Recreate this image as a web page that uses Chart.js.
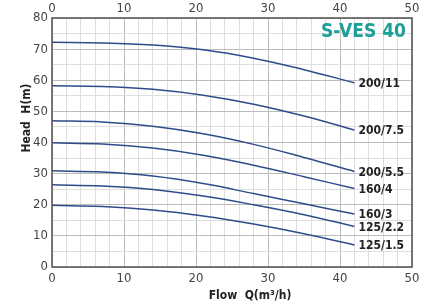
<!DOCTYPE html>
<html>
<head>
<meta charset="utf-8">
<script src="https://cdn.jsdelivr.net/npm/chart.js@4/dist/chart.umd.min.js"></script>
<style>
html,body{margin:0;padding:0;background:#fff;}
#wrap{width:439px;height:306px;position:relative;}
</style>
</head>
<body>
<div id="wrap"><canvas id="c" width="439" height="306"></canvas></div>
<script>
// ---- data ----
const flow = [0, 7, 14, 21, 28, 35, 42];
const curveNames = ["200/11", "200/7.5", "200/5.5", "160/4", "160/3", "125/2.2", "125/1.5"];
const head_200_11  = [72.2, 72.0, 71.3, 69.8, 67.1, 63.4, 59.2];
const head_200_7_5 = [58.2, 58.0, 57.1, 55.2, 52.3, 48.5, 44.0];
const head_200_5_5 = [47.0, 46.6, 45.2, 42.8, 39.4, 35.2, 30.7];
const head_160_4   = [39.9, 39.5, 38.2, 35.9, 32.7, 29.0, 25.2];
const head_160_3   = [30.9, 30.5, 29.2, 26.8, 23.6, 20.3, 17.0];
const head_125_2_2 = [26.4, 26.0, 24.9, 22.8, 20.0, 16.8, 13.0];
const head_125_1_5 = [19.8, 19.4, 18.3, 16.4, 13.8, 10.7, 7.1];
const flowTicks = [0, 10, 20, 30, 40, 50];
const headTicks = [0, 10, 20, 30, 40, 50, 60, 70, 80];
const chartTitle = "S-VES 40";
const xTitle = "Flow  Q(m\u00B3/h)";
const yTitle = "Head  H(m)";

const series = [head_200_11, head_200_7_5, head_200_5_5, head_160_4, head_160_3, head_125_2_2, head_125_1_5];

const NARROW = '"Liberation Sans Narrow", "DejaVu Sans Condensed", "Roboto Condensed", sans-serif';
const lineColor = '#2e4c8c';

const datasets = series.map((s, i) => ({
  label: curveNames[i],
  data: flow.map((q, j) => ({x: q, y: s[j]})),
  borderColor: lineColor,
  borderWidth: 1.5,
  pointRadius: 0,
  fill: false,
  tension: 0.4
}));

const gridColor = (ctx) => (ctx.tick && ctx.tick.value % 10 === 0) ? '#bcbcbc' : '#dedede';

const decor = {
  id: 'decor',
  afterDatasetsDraw(chart) {
    const {ctx, chartArea: a, scales} = chart;
    ctx.save();
    // frame
    ctx.strokeStyle = '#5a5a5a';
    ctx.lineWidth = 1.6;
    ctx.strokeRect(a.left, a.top, a.right - a.left, a.bottom - a.top);
    // curve labels
    ctx.fillStyle = '#222';
    ctx.font = 'bold 12px ' + NARROW;
    ctx.textAlign = 'left';
    ctx.textBaseline = 'middle';
    chart.data.datasets.forEach((ds) => {
      const last = ds.data[ds.data.length - 1];
      const px = scales.x.getPixelForValue(last.x);
      const py = scales.y.getPixelForValue(last.y);
      ctx.fillText(ds.label, px + 4, py + 1);
    });
    // chart title
    ctx.fillStyle = '#1c9f98';
    ctx.font = 'bold 19px ' + NARROW;
    ctx.textAlign = 'right';
    ctx.fillText(chartTitle, a.right - 6, a.top + 14);
    // axis titles
    ctx.fillStyle = '#222';
    ctx.font = 'bold 12px ' + NARROW;
    ctx.textAlign = 'center';
    ctx.fillText(xTitle, 250, 296);
    ctx.translate(27, 118);
    ctx.rotate(-Math.PI / 2);
    ctx.fillText(yTitle, 0, 0);
    ctx.restore();
  }
};

new Chart(document.getElementById('c'), {
  type: 'line',
  data: {datasets},
  plugins: [decor],
  options: {
    responsive: false,
    animation: false,
    events: [],
    layout: {padding: {left: 0, right: 27, top: 0, bottom: 0}},
    plugins: {legend: {display: false}, tooltip: {enabled: false}, title: {display: false}},
    scales: {
      x: {
        type: 'linear', position: 'bottom', min: 0, max: 50,
        afterFit(s) { s.height = 39; },
        afterBuildTicks(s) { s.ticks = []; for (let v = 0; v <= 50; v += 2) s.ticks.push({value: v}); },
        ticks: {
          autoSkip: false, maxRotation: 0, padding: 4, color: '#444',
          font: {family: NARROW, size: 13},
          callback: (v) => flowTicks.includes(v) ? String(v) : ''
        },
        grid: {color: gridColor, lineWidth: 1, drawTicks: false},
        border: {display: false}
      },
      x2: {
        type: 'linear', position: 'top', min: 0, max: 50,
        afterFit(s) { s.height = 18; },
        afterBuildTicks(s) { s.ticks = flowTicks.map(v => ({value: v})); },
        ticks: {
          autoSkip: false, maxRotation: 0, padding: 2, color: '#444',
          font: {family: NARROW, size: 13}
        },
        grid: {display: false, drawTicks: false},
        border: {display: false}
      },
      y: {
        type: 'linear', position: 'left', min: 0, max: 80,
        afterFit(s) { s.width = 52; },
        afterBuildTicks(s) { s.ticks = []; for (let v = 0; v <= 80; v += 5) s.ticks.push({value: v}); },
        ticks: {
          autoSkip: false, padding: 4, color: '#444',
          font: {family: NARROW, size: 13},
          callback: (v) => headTicks.includes(v) ? String(v) : ''
        },
        grid: {color: gridColor, lineWidth: 1, drawTicks: false},
        border: {display: false}
      }
    }
  }
});
</script>
</body>
</html>
